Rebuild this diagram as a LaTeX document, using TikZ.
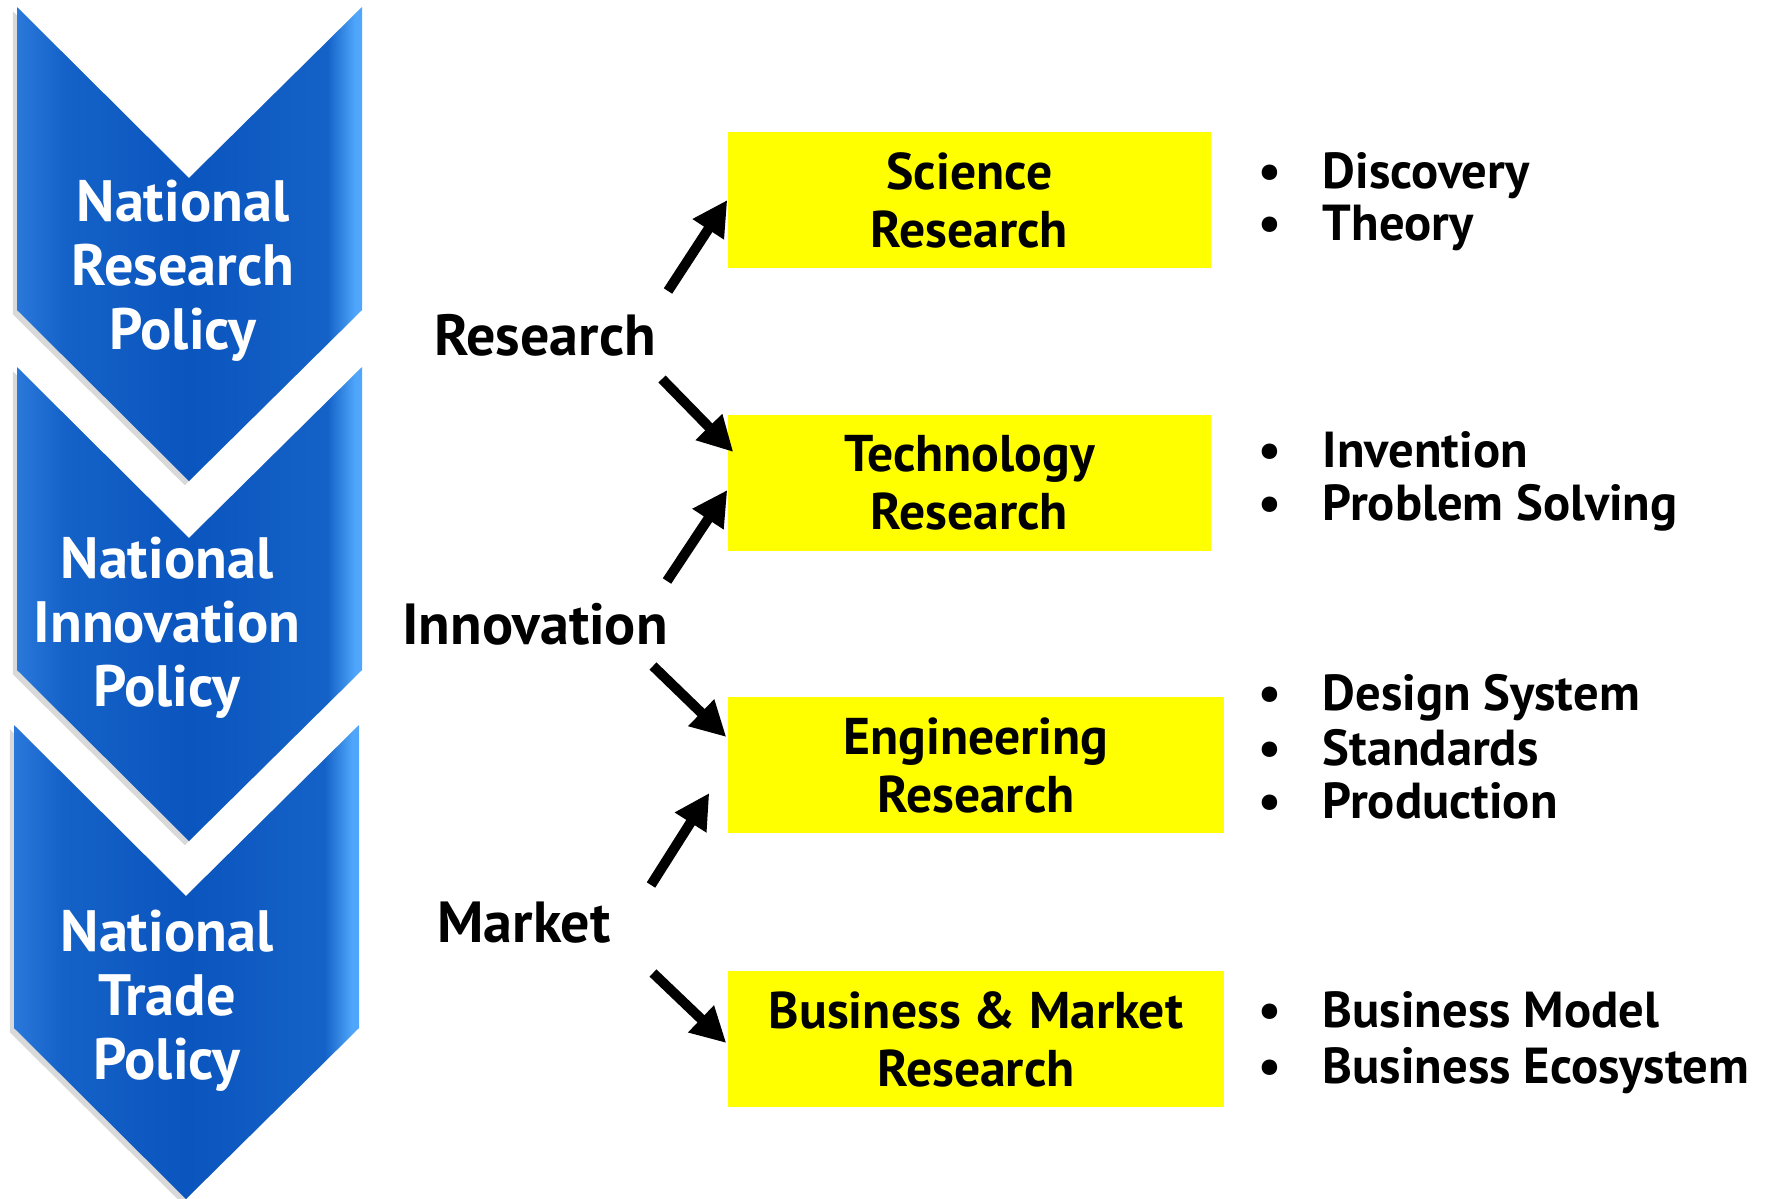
\documentclass[tikz,border=0pt]{standalone}
\usepackage{fontspec}
\setmainfont{PT Sans}
\usetikzlibrary{arrows.meta,shadows,calc}
\definecolor{chevA}{HTML}{2A78DA}
\definecolor{chevB}{HTML}{1462C8}
\definecolor{chevC}{HTML}{0B55BE}
\definecolor{chevD}{HTML}{4FA6FA}
\definecolor{boxyellow}{HTML}{FFFF00}
\pgfdeclarehorizontalshading{chevshade}{100bp}{color(0bp)=(chevA); color(25bp)=(chevA); color(32bp)=(chevB); color(50bp)=(chevC); color(70bp)=(chevB); color(74bp)=(chevD); color(100bp)=(chevD)}
\tikzset{
  chev/.style={shading=chevshade,drop shadow={shadow xshift=-1.2pt,shadow yshift=-1.2pt,opacity=.3}},
  poltext/.style={text=white,align=center,inner sep=0pt,font=\fontsize{16.6}{18.2}\selectfont\bfseries},
  lab/.style={anchor=base,inner sep=0pt,font=\fontsize{16.5}{18}\selectfont\bfseries},
  resbox/.style={fill=boxyellow,minimum height=13.6mm,inner sep=0pt,align=center,font=\fontsize{14.7}{16.5}\selectfont\bfseries},
  item/.style={anchor=base west,inner sep=0pt,font=\fontsize{14.4}{16}\selectfont\bfseries},
  arr/.style={line width=1mm,-{Triangle[length=3.5mm,width=3.5mm]}}
}
\newcommand{\bul}{\makebox[6.4mm][l]{\textbullet}}
\begin{document}
\begin{tikzpicture}[x=0.1mm,y=-0.1mm]
\useasboundingbox (0,0) rectangle (1775,1199);
% policy chevrons
\foreach \x/\y in {17/7,17/367,14/725}{
  \shade[chev] (\x,\y) -- ++(172,171) -- ++(173,-171) -- ++(0,303) -- ++(-173,171) -- ++(-172,-171) -- cycle;}
\node[poltext] (pol1) at (183,271) {National\\Research\\Policy};
\node[poltext] (pol2) at (167,628) {National\\Innovation\\Policy};
\node[poltext] (pol3) at (167,1001) {National\\Trade\\Policy};
% drivers
\node[lab] (res) at (545,355) {Research};
\node[lab] (inn) at (535,644) {Innovation};
\node[lab] (mkt) at (524,942) {Market};
% research types
\node[resbox,minimum width=48.3mm] (sci) at (969.5,200) {Science\\Research};
\node[resbox,minimum width=48.3mm] (tech) at (969.5,483) {Technology\\Research};
\node[resbox,minimum width=49.6mm] (eng) at (976,765) {Engineering\\Research};
\node[resbox,minimum width=49.6mm] (bus) at (976,1039) {Business \& Market\\Research};
% outcomes
\foreach \n/\y/\t in {d1/188/Discovery,d2/240/Theory,t1/467/Invention,t2/520/Problem Solving,e1/710/Design System,e2/765/Standards,e3/818/Production,b1/1027/Business Model,b2/1083/Business Ecosystem}
  \node[item] (\n) at (1258,\y) {\bul\t};
% arrows
\coordinate (r1) at (668,291);\coordinate (r2) at (662,379);
\coordinate (i1) at (667,581);\coordinate (i2) at (653,666);
\coordinate (m1) at (651,885);\coordinate (m2) at (653,973);
\draw[arr] (r1) -- (sci.west);
\draw[arr] (r2) -- ($(tech.west)+(6,-31)$);
\draw[arr] (i1) -- ($(tech.west)+(0,7)$);
\draw[arr] (i2) -- ($(eng.west)+(-1,-28)$);
\draw[arr] (m1) -- ($(eng.west)+(-18,28)$);
\draw[arr] (m2) -- ($(bus.west)+(-1,4)$);
\end{tikzpicture}
\end{document}
